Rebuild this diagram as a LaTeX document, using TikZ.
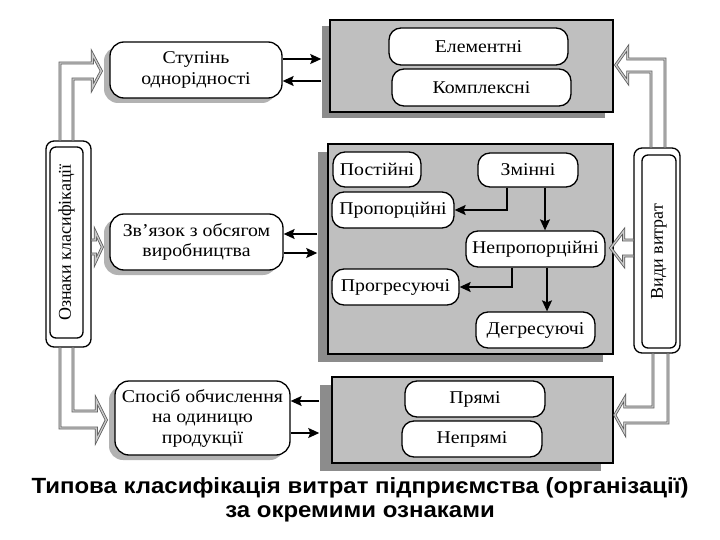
\documentclass[tikz,border=0pt]{standalone}
\usepackage{fontspec}
\setmainfont{Liberation Serif}[FakeStretch=1.1]
\newfontfamily\vfont{Liberation Serif}
\newfontfamily\titlefont{Liberation Sans}[FakeStretch=1.09]
\usetikzlibrary{arrows.meta,calc,shadows}
\tikzset{
  rbox/.style={draw=black, line width=1.3pt, fill=white, rounded corners=12pt,
    font=\fontsize{18}{20.5}\selectfont, align=center, inner sep=0pt},
  lbox/.style={rbox, rounded corners=14pt,
    drop shadow={shadow xshift=-6pt, shadow yshift=-5pt, fill=black!30, opacity=1}},
  graybox/.style={draw=black, line width=1.5pt, fill=black!25, inner sep=0pt},
  arr/.style={line width=1.3pt, -{Stealth[length=11pt,width=10pt,inset=2pt]}},
  harrow/.style={draw=black!65, double=black!20, double distance=1.3pt, line width=0.8pt, line join=miter},
  vbox/.style={draw=black, line width=1.3pt, fill=white, rounded corners=8pt, inner sep=0pt},
  vtext/.style={vbox, rounded corners=6pt, font=\vfont\fontsize{18}{20}\selectfont},
}
\begin{document}
\begin{tikzpicture}[x=1pt,y=-1pt]
\useasboundingbox (0,0) rectangle (720,540);
% gray boxes with shadows
\fill[black!45] (322,26) rectangle (605,118);
\node[graybox, minimum width=283pt, minimum height=92pt] (top) at (471.5,66) {};
\coordinate (topsh) at ($(top.west)+(-8,0)$);
\fill[black!45] (318,152) rectangle (603,362);
\node[graybox, minimum width=285pt, minimum height=210pt] (mid) at (470.5,249) {};
\coordinate (midsh) at ($(mid.west)+(-10,0)$);
\fill[black!45] (320,385) rectangle (601,471);
\node[graybox, minimum width=281pt, minimum height=86pt] (bot) at (472.5,420) {};
\coordinate (botsh) at ($(bot.west)+(-12,0)$);

% inner nodes
\node[rbox, minimum width=179pt, minimum height=37pt] (elem) at (478.5,46.5) {Елементні};
\node[rbox, minimum width=179pt, minimum height=37pt] (komp) at (481.5,87.5) {Комплексні};
\node[rbox, minimum width=88pt, minimum height=35pt] (post) at (377,169.5) {Постійні};
\node[rbox, minimum width=100pt, minimum height=34pt] (zmin) at (528,170) {Змінні};
\node[rbox, minimum width=122pt, minimum height=36pt] (prop) at (393,210) {Пропорційні};
\node[rbox, minimum width=139pt, minimum height=36pt] (neprop) at (535.5,249) {Непропорційні};
\node[rbox, minimum width=127pt, minimum height=36pt] (progr) at (395.5,287) {Прогресуючі};
\node[rbox, minimum width=119pt, minimum height=36pt] (degr) at (535.5,330) {Дегресуючі};
\node[rbox, minimum width=140pt, minimum height=36pt] (pryami) at (475,399) {Прямі};
\node[rbox, minimum width=140pt, minimum height=36pt] (nepr) at (472,439) {Непрямі};

% arrows inside mid box
\draw[arr] ([xshift=-21pt]zmin.south) |- (prop.east);
\coordinate (za) at ([xshift=17pt]zmin.south);
\draw[arr] (za) -- (za |- neprop.north);
\draw[arr] ([xshift=-23.5pt]neprop.south) |- (progr.east);
\coordinate (nb) at ([xshift=11.5pt]neprop.south);
\draw[arr] (nb) -- (nb |- degr.north);

% left nodes
\node[lbox, minimum width=172pt, minimum height=56pt] (stup) at (196,70) {Ступінь\\однорідності};
\node[lbox, minimum width=173pt, minimum height=56pt] (zv) at (196.5,242) {Зв’язок з обсягом\\виробництва};
\node[lbox, minimum width=175pt, minimum height=74pt] (spos) at (202.5,418) {Спосіб обчислення\\на одиницю\\продукції};

\path ($(stup.east)+(0,-11)$) coordinate (s1) ($(stup.east)+(0,11)$) coordinate (s2);
\draw[arr] (s1) -- (s1 -| topsh);
\draw[arr] (s2 -| topsh) -- (s2);
\path ($(zv.east)+(0,-8)$) coordinate (z1) ($(zv.east)+(0,11)$) coordinate (z2);
\draw[arr] (z1 -| midsh) -- (z1);
\draw[arr] (z2) -- (z2 -| midsh);
\path ($(spos.east)+(0,-17)$) coordinate (p1) ($(spos.east)+(0,15)$) coordinate (p2);
\draw[arr] (p1 -| botsh) -- (p1);
\draw[arr] (p2) -- (p2 -| botsh);

% vertical label boxes
\node[vbox, minimum width=45pt, minimum height=206pt] (ozn) at (68.5,244) {};
\node[vtext, minimum width=33pt, minimum height=191pt] (ozni) at (66.5,242.5) {\rotatebox{90}{Ознаки класифікації}};
\node[vbox, minimum width=46pt, minimum height=205pt] (vyd) at (657,250.5) {};
\node[vtext, minimum width=34pt, minimum height=193pt] (vydi) at (659,251.5) {\rotatebox{90}{Види витрат}};

% hollow arrows
\coordinate (tlh) at ($(stup.west)+(-8,1)$);
\draw[harrow] ([xshift=-8.5pt]ozn.north) |- ($(tlh)+(-9,-8)$) -- ($(tlh)+(-9,-17)$) -- (tlh)
  -- ($(tlh)+(-9,17)$) -- ($(tlh)+(-9,8)$) -| ([xshift=4.5pt]ozn.north);
\coordinate (blh) at ($(spos.west)+(-8,2)$);
\draw[harrow] ([xshift=-8.5pt]ozn.south) |- ($(blh)+(-10,8)$) -- ($(blh)+(-10,20)$) -- (blh)
  -- ($(blh)+(-10,-20)$) -- ($(blh)+(-10,-9)$) -| ([xshift=4.5pt]ozn.south);
\coordinate (mlh) at ($(zv.west)+(-7,5)$);
\draw[harrow] ($(ozn.east |- mlh)+(0,-7)$) -- ($(mlh)+(-7,-7)$) -- ($(mlh)+(-7,-15)$) -- (mlh)
  -- ($(mlh)+(-7,15)$) -- ($(mlh)+(-7,7)$) -- ($(ozn.east |- mlh)+(0,7)$);
\coordinate (trh) at ($(top.east)+(2,-1)$);
\draw[harrow] ([xshift=8pt]vyd.north) |- ($(trh)+(12,-6)$) -- ($(trh)+(12,-17)$) -- (trh)
  -- ($(trh)+(12,17)$) -- ($(trh)+(12,7)$) -| ([xshift=-6pt]vyd.north);
\coordinate (brh) at ($(bot.east)+(1,-5)$);
\draw[harrow] ([xshift=11pt]vyd.south) |- ($(brh)+(10,8)$) -- ($(brh)+(10,18)$) -- (brh)
  -- ($(brh)+(10,-17)$) -- ($(brh)+(10,-8)$) -| ([xshift=-4pt]vyd.south);
\coordinate (mrh) at ($(neprop.east)+(5,-1)$);
\draw[harrow] ($(vyd.west |- mrh)+(0,-8)$) -- ($(mrh)+(13,-8)$) -- ($(mrh)+(13,-17)$) -- (mrh)
  -- ($(mrh)+(13,17)$) -- ($(mrh)+(13,8)$) -- ($(vyd.west |- mrh)+(0,8)$);

% title
\node[anchor=base, font=\titlefont\bfseries\fontsize{22}{24}\selectfont] (t1) at (360,493) {Типова класифікація витрат підприємства (організації)};
\node[anchor=base, font=\titlefont\bfseries\fontsize{22}{24}\selectfont] (t2) at (360,517) {за окремими ознаками};
\end{tikzpicture}
\end{document}
